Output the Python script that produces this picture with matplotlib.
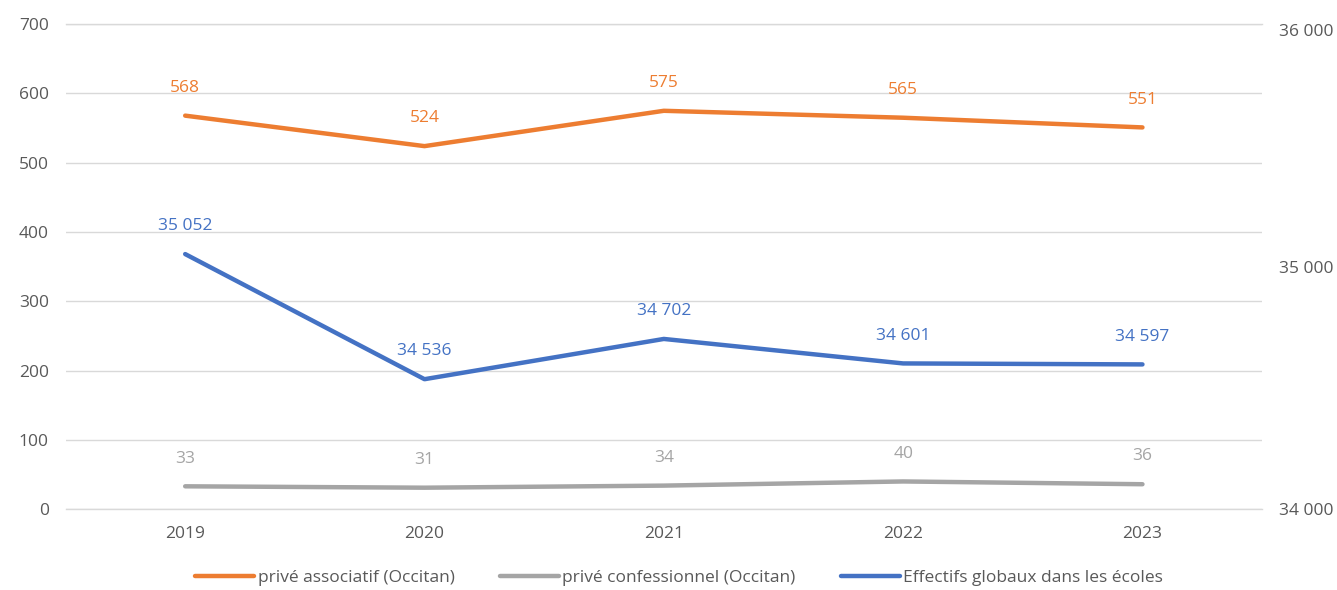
import matplotlib
matplotlib.use('Agg')
import matplotlib.pyplot as plt
from matplotlib.ticker import FuncFormatter

plt.rcParams['font.family'] = ['Open Sans', 'DejaVu Sans']

# données
annees = ['2019', '2020', '2021', '2022', '2023']
prive_assoc = [568, 524, 575, 565, 551]
prive_conf = [33, 31, 34, 40, 36]
effectifs = [35052, 34536, 34702, 34601, 34597]

c_orange = '#ED7D31'
c_gris = '#A5A5A5'
c_bleu = '#4472C4'
c_texte = '#595959'

fig = plt.figure(figsize=(13.37, 5.9), dpi=100)
ax = fig.add_axes([0.049, 0.137, 0.895, 0.822])
ax2 = ax.twinx()

x = list(range(len(annees)))
l1, = ax.plot(x, prive_assoc, color=c_orange, lw=3.2, solid_capstyle='round',
              label='privé associatif (Occitan)')
l2, = ax.plot(x, prive_conf, color=c_gris, lw=3.2, solid_capstyle='round',
              label='privé confessionnel (Occitan)')
l3, = ax2.plot(x, effectifs, color=c_bleu, lw=3.2, solid_capstyle='round',
               label='Effectifs globaux dans les écoles')

fmt = lambda v: f"{v:,}".replace(',', ' ')
for i in x:
    ax.annotate(str(prive_assoc[i]), (i, prive_assoc[i]), xytext=(0, 20),
                textcoords='offset points', ha='center', va='center',
                color=c_orange, fontsize=12.5)
    ax.annotate(str(prive_conf[i]), (i, prive_conf[i]), xytext=(0, 20),
                textcoords='offset points', ha='center', va='center',
                color=c_gris, fontsize=12.5)
    ax2.annotate(fmt(effectifs[i]), (i, effectifs[i]), xytext=(0, 20),
                 textcoords='offset points', ha='center', va='center',
                 color=c_bleu, fontsize=12.5)

ax.set_xlim(-0.5, len(annees) - 0.5)
ax.set_ylim(0, 700)
ax.set_yticks(range(0, 701, 100))
ax2.set_ylim(34000, 36000)
ax2.set_yticks([34000, 35000, 36000])
ax2.yaxis.set_major_formatter(FuncFormatter(lambda v, p: fmt(int(v))))
ax.set_xticks(x)
ax.set_xticklabels(annees)

ax.grid(axis='y', color='#D9D9D9', lw=1)
ax.axhline(0, color='#D9D9D9', lw=1, clip_on=False, zorder=0)
ax.axhline(700, color='#D9D9D9', lw=1, clip_on=False, zorder=0)
ax.set_axisbelow(True)
for a in (ax, ax2):
    for s in a.spines.values():
        s.set_visible(False)
    a.tick_params(length=0, labelsize=12.5, labelcolor=c_texte)
ax.tick_params(axis='y', pad=12)
ax.tick_params(axis='x', pad=12)
ax2.tick_params(axis='y', pad=12)
ax2.get_yticklabels()[-1].set_va('top')

fig.legend(handles=[l1, l2, l3], loc='center', bbox_to_anchor=(0.508, 0.02),
           ncol=3, frameon=False, fontsize=12.5, handlelength=3.4,
           columnspacing=2.6, handletextpad=0.2, labelcolor=c_texte)

fig.savefig('out.png', dpi=100)
